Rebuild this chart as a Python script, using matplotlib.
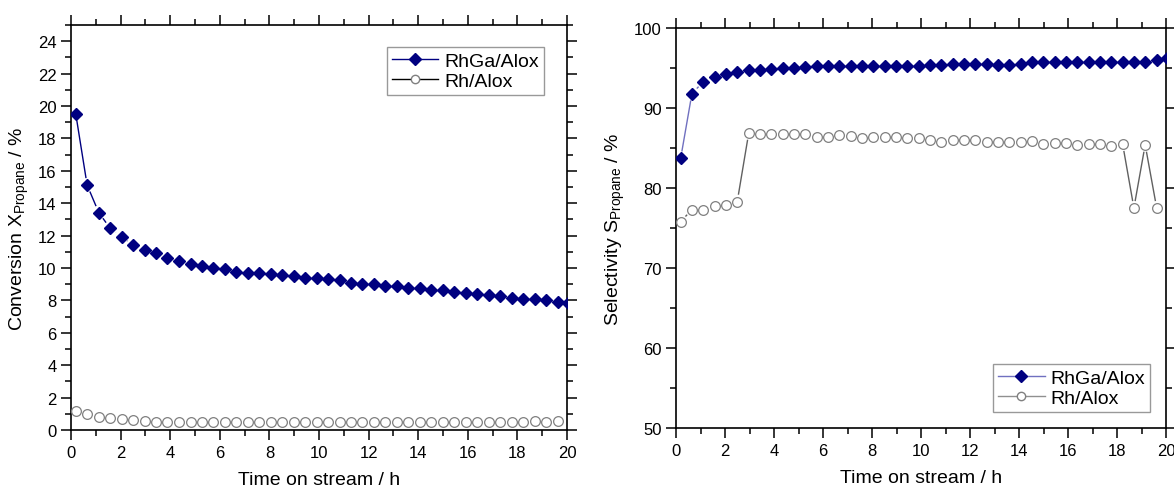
import numpy as np
import matplotlib
matplotlib.use('Agg')
import matplotlib.pyplot as plt
from matplotlib.collections import LineCollection
from matplotlib.lines import Line2D
from matplotlib.ticker import MultipleLocator

plt.rcParams['font.family'] = ['Liberation Sans', 'DejaVu Sans']

# time on stream / h
time_h = [0.19, 0.65, 1.12, 1.58, 2.04, 2.50, 2.97, 3.43, 3.89, 4.35, 4.82,
          5.28, 5.74, 6.20, 6.67, 7.13, 7.59, 8.05, 8.52, 8.98, 9.44, 9.90,
          10.37, 10.83, 11.29, 11.75, 12.22, 12.68, 13.14, 13.60, 14.07, 14.53,
          14.99, 15.45, 15.92, 16.38, 16.84, 17.30, 17.77, 18.23, 18.69, 19.15,
          19.62, 20.05]

# conversion X_propane / %
conv_rhga = [19.53, 15.12, 13.42, 12.45, 11.94, 11.40, 11.11, 10.91, 10.62,
             10.41, 10.27, 10.12, 10.00, 9.92, 9.77, 9.71, 9.71, 9.65, 9.57,
             9.51, 9.40, 9.38, 9.30, 9.24, 9.09, 9.03, 9.03, 8.89, 8.87, 8.79,
             8.74, 8.66, 8.62, 8.52, 8.48, 8.37, 8.31, 8.29, 8.17, 8.11, 8.09,
             8.02, 7.90, 7.86]
conv_rh = [1.17, 1.01, 0.82, 0.72, 0.66, 0.62, 0.56, 0.51, 0.49, 0.49, 0.49,
           0.49, 0.49, 0.49, 0.49, 0.49, 0.49, 0.49, 0.49, 0.49, 0.49, 0.49,
           0.49, 0.49, 0.49, 0.49, 0.49, 0.49, 0.49, 0.49, 0.49, 0.49, 0.49,
           0.49, 0.49, 0.49, 0.49, 0.49, 0.49, 0.49, 0.53, 0.51, 0.53]

# selectivity S_propane / %
sel_rhga = [83.7, 91.8, 93.3, 93.9, 94.3, 94.5, 94.7, 94.8, 94.9, 95.0, 95.0,
            95.1, 95.2, 95.2, 95.3, 95.3, 95.3, 95.3, 95.2, 95.3, 95.3, 95.3,
            95.4, 95.4, 95.5, 95.5, 95.5, 95.5, 95.4, 95.4, 95.5, 95.7, 95.7,
            95.7, 95.7, 95.7, 95.7, 95.7, 95.8, 95.8, 95.8, 95.7, 96.0, 96.2]
sel_rh = [75.8, 77.3, 77.3, 77.7, 77.9, 78.3, 86.9, 86.8, 86.8, 86.7, 86.7,
          86.8, 86.4, 86.4, 86.6, 86.5, 86.3, 86.4, 86.4, 86.4, 86.2, 86.2,
          86.0, 85.8, 86.0, 86.0, 86.0, 85.8, 85.7, 85.8, 85.8, 85.9, 85.5,
          85.6, 85.6, 85.4, 85.5, 85.5, 85.3, 85.5, 77.5, 85.4, 77.5]

labels = ['RhGa/Alox', 'Rh/Alox']
NAVY = '#000080'
GRAY = '#808080'
D_MS = 6.3
O_MS = 7.0


def gapped_line(ax, x, y, color, lw=1.0, gap=7):
    # Origin style: the connecting line stops short of each marker
    pts = ax.transData.transform(np.column_stack([x, y]))
    inv = ax.transData.inverted()
    segs = []
    for p0, p1 in zip(pts[:-1], pts[1:]):
        d = p1 - p0
        L = np.hypot(*d)
        if L <= 2 * gap:
            continue
        u = d / L
        segs.append(inv.transform([p0 + u * gap, p1 - u * gap]))
    ax.add_collection(LineCollection(segs, colors=color, linewidths=lw))


def style_axes(ax, ymaj, ymin):
    ax.set_xlim(0, 20)
    ax.xaxis.set_major_locator(MultipleLocator(2))
    ax.xaxis.set_minor_locator(MultipleLocator(1))
    ax.yaxis.set_major_locator(MultipleLocator(ymaj))
    ax.yaxis.set_minor_locator(MultipleLocator(ymin))
    ax.tick_params(which='both', direction='out', top=True, right=True,
                   labelsize=12, width=1.1)
    ax.tick_params(which='major', length=7)
    ax.tick_params(which='minor', length=4)
    for s in ax.spines.values():
        s.set_linewidth(1.2)
    ax.set_xlabel('Time on stream / h', fontsize=14, labelpad=8)


fig = plt.figure(figsize=(11.74, 4.89), dpi=100)
W, H = 1174, 489
ax1 = fig.add_axes([71 / W, 1 - 431 / H, 496 / W, 405 / H])
ax2 = fig.add_axes([676 / W, 1 - 429 / H, 490 / W, 400 / H])

# left: conversion
style_axes(ax1, 2, 1)
ax1.set_ylim(0, 25)
ax1.set_yticks(np.arange(0, 25, 2))
ax1.set_ylabel('Conversion X$_\\mathregular{Propane}$ / %', fontsize=14, labelpad=5)
gapped_line(ax1, time_h, conv_rhga, NAVY)
gapped_line(ax1, time_h[:len(conv_rh)], conv_rh, 'black')
ax1.plot(time_h, conv_rhga, ls='none', marker='D', ms=D_MS, color=NAVY, zorder=3)
ax1.plot(time_h[:len(conv_rh)], conv_rh, ls='none', marker='o', ms=O_MS,
         mfc='white', mec=GRAY, mew=0.9, zorder=3)
h1 = [Line2D([], [], color=NAVY, lw=1, marker='D', ms=D_MS),
      Line2D([], [], color='black', lw=1, marker='o', ms=O_MS - 1, mfc='white', mec=GRAY)]
leg1 = ax1.legend(h1, labels, loc='upper right', bbox_to_anchor=(0.953, 0.945),
                  fontsize=14, fancybox=False, edgecolor=GRAY, borderpad=0.25,
                  handlelength=2.4, handletextpad=0.3, labelspacing=0.15,
                  borderaxespad=0)
leg1.get_frame().set_linewidth(1.0)

# right: selectivity
style_axes(ax2, 10, 5)
ax2.set_ylim(50, 100)
ax2.set_ylabel('Selectivity S$_\\mathregular{Propane}$ / %', fontsize=14, labelpad=5)
gapped_line(ax2, time_h, sel_rhga, '#7070c0')
gapped_line(ax2, time_h[:len(sel_rh)], sel_rh, '#606060')
ax2.plot(time_h, sel_rhga, ls='none', marker='D', ms=D_MS, color=NAVY, zorder=3)
ax2.plot(time_h[:len(sel_rh)], sel_rh, ls='none', marker='o', ms=O_MS,
         mfc='white', mec=GRAY, mew=0.9, zorder=3)
h2 = [Line2D([], [], color='#7070c0', lw=1, marker='D', ms=D_MS, mfc=NAVY, mec=NAVY),
      Line2D([], [], color='#909090', lw=1, marker='o', ms=O_MS - 1, mfc='white', mec=GRAY)]
leg2 = ax2.legend(h2, labels, loc='lower right', bbox_to_anchor=(0.967, 0.04),
                  fontsize=14, fancybox=False, edgecolor=GRAY, borderpad=0.25,
                  handlelength=2.4, handletextpad=0.3, labelspacing=0.15,
                  borderaxespad=0)
leg2.get_frame().set_linewidth(1.0)

fig.savefig('out.png', dpi=100)
